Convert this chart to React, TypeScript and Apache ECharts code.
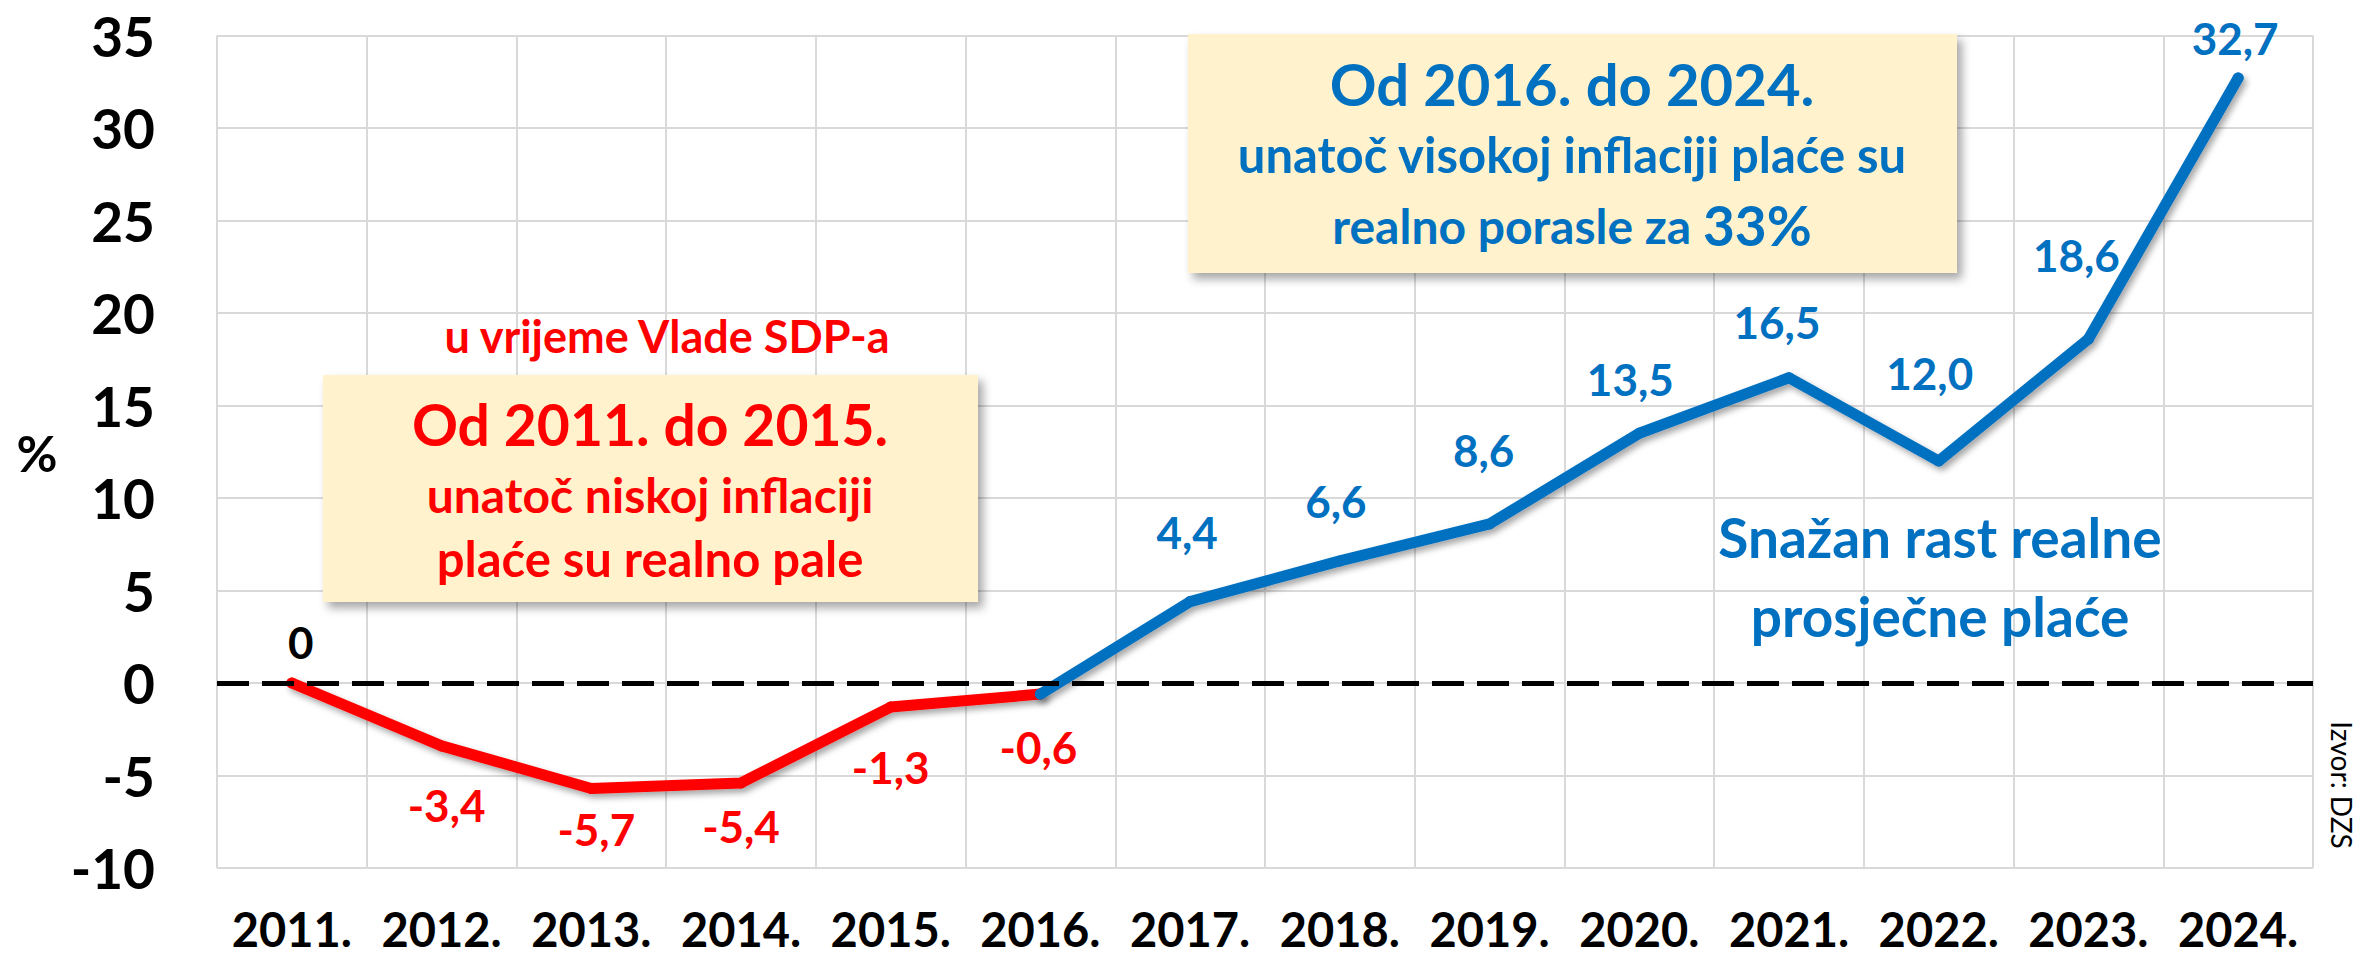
import React, { useEffect, useRef } from "react";
import * as echarts from "echarts";

const categories = ["2011.", "2012.", "2013.", "2014.", "2015.", "2016.", "2017.", "2018.", "2019.", "2020.", "2021.", "2022.", "2023.", "2024."];
const values = [0, -3.4, -5.7, -5.4, -1.3, -0.6, 4.4, 6.6, 8.6, 13.5, 16.5, 12.0, 18.6, 32.7];
// index where the red (2011-2016) segment ends and the blue one begins
const splitIndex = 5;
const yMin = -10;
const yMax = 35;
const yInterval = 5;

// label offsets [dx, dy] relative to each point (layout, not data)
const labelOffsets: [number, number][] = [
  [9, -41], [5, 59], [5, 41], [0, 43], [0, 60], [-2, 53],
  [-3, -70], [-4, -60], [-6, -74], [-9, -54], [-12, -56], [-9, -88], [-12, -84], [-3, -40],
];

const RED = "#FF0000";
const BLUE = "#0070C0";
const FONT = "Lato";
const BOX = "#FFF2CC";

const fmt = (v: number) => (v === 0 ? "0" : v.toFixed(1).replace(".", ","));

export default function App() {
  const ref = useRef<HTMLDivElement>(null);
  useEffect(() => {
    if (!ref.current) return;
    const chart = echarts.init(ref.current, undefined, { renderer: "svg" });

    const lineStyleFor = (color: string) => ({
      width: 11,
      color,
      cap: "round",
      join: "round",
      shadowColor: "rgba(0,0,0,0.35)",
      shadowBlur: 6,
      shadowOffsetX: 3,
      shadowOffsetY: 4,
    });

    const redData = values.map((v, i) =>
      i <= splitIndex
        ? {
            value: v,
            label: {
              show: true,
              offset: labelOffsets[i],
              color: v === 0 ? "#000000" : RED,
            },
          }
        : null
    );
    const blueData = values.map((v, i) =>
      i >= splitIndex
        ? {
            value: v,
            label: {
              show: i > splitIndex,
              offset: labelOffsets[i],
              color: BLUE,
            },
          }
        : null
    );

    const labelBase = {
      position: "inside",
      fontFamily: FONT,
      fontWeight: "bold",
      fontSize: 44,
      formatter: (p: any) => fmt(p.value),
    };

    const boxShadow = {
      shadowBlur: 10,
      shadowOffsetX: 5,
      shadowOffsetY: 6,
      shadowColor: "rgba(0,0,0,0.35)",
    };

    const txt = (x: number, y: number, text: string, size: number, color: string, weight = "bold") => ({
      type: "text",
      x,
      y,
      z: 101,
      style: {
        text,
        fill: color,
        fontFamily: FONT,
        fontWeight: weight,
        fontSize: size,
        textAlign: "center",
        textVerticalAlign: "middle",
        align: "center",
        verticalAlign: "middle",
      },
    });

    chart.setOption({
      animation: false,
      backgroundColor: "#FFFFFF",
      grid: { left: 217, right: 45, top: 35.5, bottom: 89, containLabel: false },
      xAxis: {
        type: "category",
        data: categories,
        boundaryGap: true,
        axisLine: { show: false },
        axisTick: { show: false },
        splitLine: { show: true, lineStyle: { color: "#D9D9D9", width: 2 } },
        axisLabel: {
          interval: 0,
          margin: 38,
          color: "#000000",
          fontFamily: FONT,
          fontWeight: "bold",
          fontSize: 47,
          lineHeight: 46,
        },
      },
      yAxis: {
        type: "value",
        min: yMin,
        max: yMax,
        interval: yInterval,
        axisLine: { show: false },
        axisTick: { show: false },
        splitLine: { show: true, lineStyle: { color: "#D9D9D9", width: 2 } },
        axisLabel: {
          margin: 62,
          color: "#000000",
          fontFamily: FONT,
          fontWeight: "bold",
          fontSize: 55,
        },
      },
      series: [
        {
          name: "zero",
          type: "line",
          data: [],
          z: 1,
          markLine: {
            silent: true,
            symbol: ["none", "none"],
            label: { show: false },
            lineStyle: { color: "#000000", width: 5, type: [32, 13] },
            data: [{ yAxis: 0 }],
          },
        },
        {
          name: "2011-2016",
          type: "line",
          z: 3,
          data: redData,
          symbol: "circle",
          symbolSize: 11,
          itemStyle: { color: RED },
          lineStyle: lineStyleFor(RED),
          label: labelBase,
        },
        {
          name: "2016-2024",
          type: "line",
          z: 4,
          data: blueData,
          symbol: "circle",
          symbolSize: 11,
          itemStyle: { color: BLUE },
          lineStyle: lineStyleFor(BLUE),
          label: labelBase,
        },
      ],
      graphic: [
        {
          type: "rect",
          z: 100,
          shape: { x: 323, y: 375, width: 655, height: 227 },
          style: { fill: BOX, ...boxShadow },
        },
        {
          type: "rect",
          z: 100,
          shape: { x: 1188, y: 34, width: 769, height: 239 },
          style: { fill: BOX, ...boxShadow },
        },
        txt(667, 336, "u vrijeme Vlade SDP-a", 45, RED),
        txt(650, 424, "Od 2011. do 2015.", 57, RED),
        txt(650, 494, "unatoč niskoj inflaciji", 48, RED),
        txt(650, 558, "plaće su realno pale", 49, RED),
        txt(1572, 83, "Od 2016. do 2024.", 58, BLUE),
        txt(1572, 154, "unatoč visokoj inflaciji plaće su", 49, BLUE),
        {
          type: "text",
          x: 1572,
          y: 225,
          z: 101,
          style: {
            text: "{a|realno porasle za }{b|33%}",
            textAlign: "center",
            textVerticalAlign: "middle",
            align: "center",
            verticalAlign: "middle",
            rich: {
              a: { fontFamily: FONT, fontWeight: "bold", fontSize: 48, fill: BLUE, color: BLUE },
              b: { fontFamily: FONT, fontWeight: "bold", fontSize: 55, fill: BLUE, color: BLUE },
            },
          },
        },
        txt(1940, 537, "Snažan rast realne", 55, BLUE),
        txt(1940, 616, "prosječne plaće", 55, BLUE),
        txt(37, 453, "%", 50, "#000000"),
        {
          type: "text",
          x: 2342,
          y: 785,
          rotation: -Math.PI / 2,
          z: 101,
          style: {
            text: "Izvor: DZS",
            fill: "#000000",
            fontFamily: FONT,
            fontWeight: "normal",
            fontSize: 28,
            textAlign: "center",
            textVerticalAlign: "middle",
            align: "center",
            verticalAlign: "middle",
          },
        },
      ],
    });
    return () => chart.dispose();
  }, []);

  return (
    <div
      ref={ref}
      style={{ position: "absolute", left: 0, top: 0, width: 2358, height: 957, background: "#FFFFFF" }}
    />
  );
}
